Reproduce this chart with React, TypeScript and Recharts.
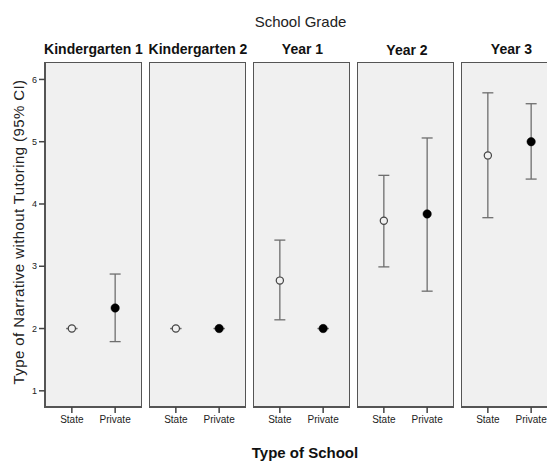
import React from 'react';
import { ComposedChart, Scatter, ErrorBar, XAxis, YAxis, ReferenceArea } from 'recharts';

const grades = ['Kindergarten 1', 'Kindergarten 2', 'Year 1', 'Year 2', 'Year 3'];
const schoolTypes = ['State', 'Private'];
const yTicks = [1, 2, 3, 4, 5, 6];

const stateMean = [2.0, 2.0, 2.77, 3.73, 4.78];
const stateLow = [2.0, 2.0, 2.14, 2.99, 3.78];
const stateHigh = [2.0, 2.0, 3.42, 4.46, 5.785];

const privateMean = [2.33, 2.0, 2.0, 3.84, 5.0];
const privateLow = [1.79, 2.0, 2.0, 2.6, 4.4];
const privateHigh = [2.875, 2.0, 2.0, 5.06, 5.61];

const X_DOMAIN: [number, number] = [-0.62, 1.62];
const Y_DOMAIN: [number, number] = [0.74, 6.28];
const FONT = '"Liberation Sans", Arial, Helvetica, sans-serif';

const PLOT_W = 97;
const PLOT_H = 345;
const AXIS_H = 30;
const Y_AXIS_W = 45;
const PANEL_STEP = 104;
const PLOT_LEFT = 45;
const PLOT_TOP = 62;

const HollowDot = (p: any) => (
  <circle cx={p.cx} cy={p.cy} r={3.6} fill="#f0f0f0" stroke="#444" strokeWidth={1.2} />
);
const FilledDot = (p: any) => <circle cx={p.cx} cy={p.cy} r={4.2} fill="#000" stroke="#000" strokeWidth={0.5} />;

function Panel({ i }: { i: number }) {
  const first = i === 0;
  const stateData = [{ x: 0, y: stateMean[i], err: [stateMean[i] - stateLow[i], stateHigh[i] - stateMean[i]] }];
  const privateData = [{ x: 1, y: privateMean[i], err: [privateMean[i] - privateLow[i], privateHigh[i] - privateMean[i]] }];
  const width = first ? Y_AXIS_W + PLOT_W : PLOT_W;
  const left = first ? 0 : PLOT_LEFT + PANEL_STEP * i;
  return (
    <div style={{ position: 'absolute', left, top: PLOT_TOP }}>
      <ComposedChart width={width} height={PLOT_H + AXIS_H} margin={{ top: 0, right: 0, bottom: 0, left: 0 }}>
        <XAxis
          type="number"
          dataKey="x"
          domain={X_DOMAIN}
          ticks={[0, 1]}
          tickFormatter={(v: number) => schoolTypes[v]}
          axisLine={false}
          tickLine={{ stroke: '#444', strokeWidth: 1.5 }}
          tickSize={6}
          tickMargin={3}
          height={AXIS_H}
          tick={{ fontSize: 10, fill: '#222', fontFamily: FONT }}
          allowDataOverflow
        />
        <YAxis
          type="number"
          dataKey="y"
          domain={Y_DOMAIN}
          ticks={yTicks}
          hide={!first}
          width={Y_AXIS_W}
          axisLine={false}
          tickLine={{ stroke: '#444', strokeWidth: 1.5 }}
          tickSize={6}
          tickMargin={2}
          tick={{ fontSize: 9, fill: '#222', fontFamily: FONT }}
          allowDataOverflow
        />
        <ReferenceArea
          x1={X_DOMAIN[0]}
          x2={X_DOMAIN[1]}
          y1={Y_DOMAIN[0]}
          y2={Y_DOMAIN[1]}
          fill="#f0f0f0"
          fillOpacity={1}
          stroke="#555"
          strokeWidth={2}
          ifOverflow="visible"
        />
        <Scatter data={stateData} dataKey="y" isAnimationActive={false} shape={HollowDot}>
          <ErrorBar dataKey="err" direction="y" width={5.5} stroke="#6e6e6e" strokeWidth={1.3} isAnimationActive={false} />
        </Scatter>
        <Scatter data={privateData} dataKey="y" isAnimationActive={false} shape={FilledDot}>
          <ErrorBar dataKey="err" direction="y" width={5.5} stroke="#6e6e6e" strokeWidth={1.3} isAnimationActive={false} />
        </Scatter>
      </ComposedChart>
    </div>
  );
}

export default function App() {
  return (
    <div
      style={{
        position: 'absolute',
        left: 0,
        top: 0,
        width: 547,
        height: 461,
        overflow: 'hidden',
        background: '#fff',
        fontFamily: FONT,
      }}
    >
      {grades.map((g, i) => (
        <Panel key={g} i={i} />
      ))}
      <svg width={547} height={461} style={{ position: 'absolute', left: 0, top: 0, pointerEvents: 'none' }}>
        <text x={300.5} y={26.5} textAnchor="middle" fontSize={15} fill="#222" fontFamily={FONT}>
          School Grade
        </text>
        {grades.map((g, i) => (
          <text
            key={g}
            x={93.5 + 104.5 * i}
            y={i === 3 ? 55 : 53.5}
            textAnchor="middle"
            fontSize={14}
            fontWeight="bold"
            fill="#111"
            fontFamily={FONT}
          >
            {g}
          </text>
        ))}
        <text
          transform="translate(24,232) rotate(-90)"
          textAnchor="middle"
          fontSize={15}
          letterSpacing={0.4}
          fill="#222"
          fontFamily={FONT}
        >
          Type of Narrative without Tutoring (95% CI)
        </text>
        <text x={305} y={457.5} textAnchor="middle" fontSize={15} fontWeight="bold" fill="#111" fontFamily={FONT}>
          Type of School
        </text>
      </svg>
    </div>
  );
}
